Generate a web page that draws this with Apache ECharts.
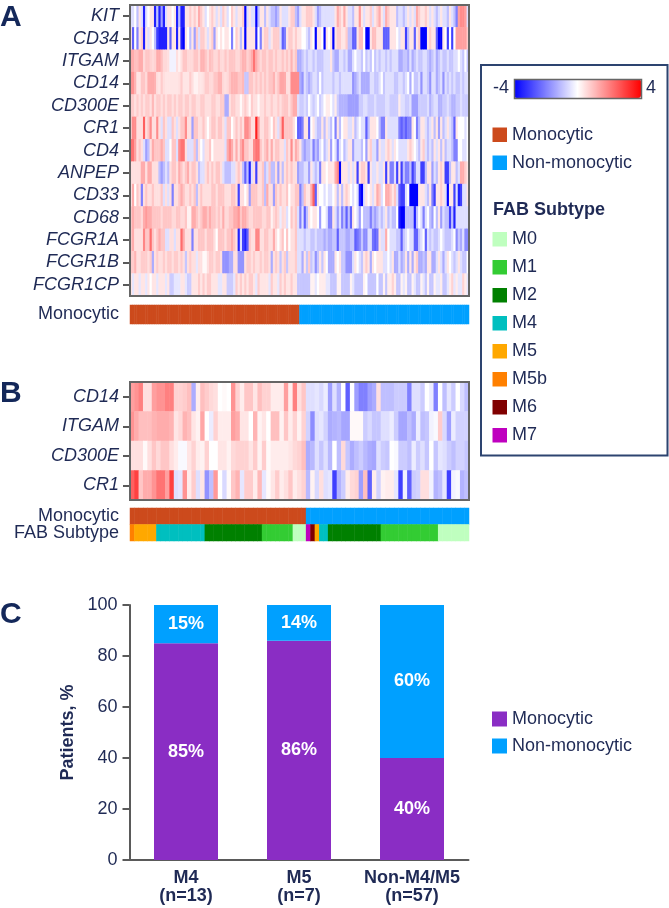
<!DOCTYPE html>
<html>
<head>
<meta charset="utf-8">
<style>html,body{margin:0;padding:0;background:#fff}#chart{width:669px;height:908px}</style>
<script src="https://cdn.jsdelivr.net/npm/echarts@6/dist/echarts.min.js"></script>
</head>
<body>
<div id="chart"></div>
<script>
// Panel A: log-scaled expression per gene, one column per patient
const KIT = [
-.5,-.5,0,-1,.4,-.5,-3.5,-.5,0,.4, .4,-3.5,-1,-3.5,-1.5,-3.5,-.5,.4,.4,0, .4,-3.5,-1,-3.5,-3.5,.4,.4,.8,.4,.8,
.4,1.3,.8,.4,-.5,0,.4,.8,.4,-.5, .4,-.5,.8,.4,-.5,0,.8,.4,-.5,.4, .4,.8,-4,-.5,.4,-.5,-.5,-4,-1,.4,
.4,-1,.4,-.5,-1,-1,-1.5,-1,.4,-.5, -.5,-.5,.4,.8,.8,-1,-1.5,-.5,.4,.4, .8,.8,.8,.4,-.5,-1.5,-1,-.5,-.5,-.5,
-.5,-.5,-.5,.4,1.3,.8,.4,1.3,.4,-.5, -.5,-1,.4,.4,1.6,.4,-.5,.4,.4,.8, -.5,.4,.8,1.3,.4,-.5,1.3,.8,.4,.4,
.4,-1,-.5,-.5,-1,-.5,.4,-.5,.4,-.5, 1.3,.8,.4,.4,.8,.4,-.5,.4,-.5,-1, -.5,.4,-.5,-.5,-1,.4,-.5,-1,-2,1.5, 1.8,1.8,1.5,-.5];
const CD34 = [
.4,-2.5,0,-2,.4,.8,-3.5,.4,-.5,.4, 0,-1,-3,-3.5,-3.5,-3.5,-3.5,.4,-2.5,.4, .4,-3.5,.4,-3.5,-4,.4,0,-1,.4,-1.5,
.8,-.5,.8,.8,.4,-.5,.4,.8,-1.5,.4, 0,.4,0,.4,.4,0,-2,0,.8,.4, -1,.4,-4,.4,.4,.4,.4,-3.5,0,-2,
.4,.8,.8,-.5,.4,.8,.8,.8,-.5,-2.5, -2,.4,.8,.8,.4,.8,.4,.4,0,0, -.5,-1,.4,0,-4,.4,.4,0,-4,.4,
0,.4,-4,.4,.8,.8,.4,.4,.8,-1, -1,-2.5,-2.5,.4,1,1,0,-4,-4,.4, 1,1,.4,.4,.4,-2.5,-2.5,-2.5,.4,.4,
.4,0,-.5,.4,.4,-3,-1,.4,.4,-2.5, .4,.8,-4,-4,-4,.4,.8,.4,.4,-2.5, -4,-4,.4,0,-3,0,-3,0,1.5,1.5, 1.5,1.5,1.5,.8];
const ITGAM_A = [
1.3,1.3,1,1,1.3,1.3,.6,.9,.9,.7, .6,.7,1.3,1.3,1,.6,.6,.5,-.2,-.2, -.2,.5,.2,.5,.9,.9,.6,.6,.6,.9,
.9,.6,1.2,1.2,.9,.6,1,.9,.6,.6, .9,.6,.6,.9,.6,.9,.9,.9,.6,.6, .9,1.2,1.2,.7,.9,1.3,2.2,1.3,.9,.6,
.9,.9,.6,.9,.9,.6,.9,.6,.6,.9, .6,.9,.6,1.2,.6,.9,-1.3,-1.3,-.9,-.5, -.9,-.5,-.5,-.9,-.5,-.9,-.9,-.9,-.5,-.5,
-.5,.4,-.9,-1.3,-1.3,-.5,-.5,-.9,-.5,-1.3, -1.3,-.5,0,-.5,-.5,-.9,0,-.9,-.5,-.9, 0,-.9,-.5,-.9,-.5,-.5,-.9,-.5,-.9,-.5,
-.5,-.5,-1.3,-1.3,-.9,-.9,-1.3,-.5,-1.3,-.9, -.5,-.9,-.9,-.5,-.5,-.9,-1.3,-.9,-.5,-1.3, -.9,-.5,-.9,-.9,-.5,-.9,-.9,-.5,-.5,0, -.5,-.9,0,-.9];
const CD14_A = [
1.7,1.7,1.2,.4,.4,.9,.9,.6,1.3,1.3, 1.3,1.2,.5,.4,.8,.5,.4,.4,.4,.4, .4,.4,.5,.8,.4,.4,.4,.8,.5,.2,
.2,.4,.4,.5,.8,.8,.6,.6,.9,.9, 1.2,1.2,.6,.5,.6,.9,1.2,1.2,1.2,.9, .9,1.1,-.9,-.9,.9,.9,.6,.9,.6,.9,
.6,.9,.6,.9,.9,1.2,.6,.9,1.4,1.4, 1.3,.5,.5,1.8,1.8,1.8,1.8,-1.3,-1.7,-.5, -.9,-1.3,-.9,-.5,-.5,-.9,0,-.9,-.5,-.5,
-.5,-.5,-.9,-.5,-.5,-.9,-.5,-.5,-.5,-.5, -.5,-1.7,-1.3,-.9,-.5,-1.3,-1.3,-1.3,-1.3,-.5, -.5,-.9,-.9,-.5,0,-.9,-.5,-.5,-.5,-.5,
-.9,-.9,-.5,-.5,-.9,-.5,0,-1.3,0,-.9, -.9,-.5,-1.7,-.5,-.5,-.9,-1.7,-.5,-.5,-1.3, -.9,-.5,-1.7,-.5,-.9,-.5,-.9,-.5,-.9,-.9, -.5,-.9,-.5,-.5];
const CD300E_A = [
.8,.8,.5,.8,.5,.8,.5,.8,.8,.5, 1.1,.5,.8,.8,.5,.8,.5,.8,.8,.5, .8,.5,.8,.8,.5,.8,.8,.5,.8,.8,
.5,.5,.8,.8,.5,.5,.5,.8,.8,.5, .5,.8,.8,-1.3,-1.3,.5,.8,.8,.5,.5, .1,.5,.8,.5,.1,.8,.5,.5,.1,.5,
.5,.8,.5,.5,.8,.5,.5,.8,.5,.8, .9,.9,.5,.9,1.3,1.3,-.5,-.8,-.8,-.5, -.8,0,-.5,-.8,-.5,0,-.8,-.5,0,.3,
.3,0,-.5,.3,-.8,-1.2,-1.2,-1.2,-1.2,-1.5, -1.5,-1.5,-1.5,-1.5,-.8,-.8,-.5,-.5,-.8,-.8, -.8,-.5,-.8,-.8,-.8,-.8,-.5,-.5,-.8,-.8,
-.8,-.8,.3,-.5,-.5,-.8,-.8,-.5,-1.5,-1.5, -1.5,-.8,-.8,-.8,-.8,-.5,-1.2,-.8,-.5,-.5, -1.2,-1.2,-.8,-.8,-.5,-.8,-1.2,-1.2,-.8,-.8, -.5,-.8,-.8,-.8];
const CR1_A = [
.9,1.8,1.8,.5,.5,.5,2.5,.5,.9,1.8, .5,.5,1.8,.5,-.5,.9,.5,-.5,-.5,.9, .5,-.5,.5,.9,.9,1.8,.5,.5,-1.5,.9,
.9,.5,.5,.9,.5,0,.5,.9,.9,.5, .9,.9,.5,-.5,.9,.9,0,.5,.9,.5, .9,.5,1.8,1.8,1.3,.5,.5,3.5,1.5,.5,
.5,.9,.9,.5,0,.9,.5,-.5,.9,2.5, .9,.9,.9,.9,.5,0,-2.5,-2.5,-2,.4, .4,-2.5,0,.4,-.5,-1,-1,.4,-1,.4,
-.5,-1,0,-2,.4,-1,0,.4,.4,-.5, -.5,.4,-1,-.5,0,-.5,-.5,-2.5,-1,.4, .4,.4,0,-1,-2,-2,.4,-.5,-.5,-.5,
-.5,-.5,-2,-2.5,-2,-2.5,-2,-2,.4,0, -2,-1,.4,.4,-.5,-1,-.5,.4,-1,.4, -1.5,.4,-1,-.5,.4,-.5,-1,-2.5,.4,0, 0,0,-.5,0];
const CD4 = [
2.2,2.2,1.5,.5,.9,.5,-.5,-1.5,-1,.5, 1.3,.9,.9,.9,1.3,.9,-.5,-.5,0,.9, .9,-.5,1.8,2.2,2.2,.5,-.5,-.5,-.5,.9,
-1,.5,0,-.5,.5,.5,.9,0,.5,.5, .5,.5,.5,-.5,1.3,1.8,1.3,.5,1.3,.5, 1.3,1.8,.9,.9,.5,.5,1.8,2.2,2.2,.9,
.5,.9,1.3,.5,1.3,.5,.9,.9,.5,.5, -.5,.9,.5,1.8,.5,1.3,.9,.4,-1,-1.5, -1,-1,-.5,-2,-1,-1.5,-.5,0,-1,-.5,
.4,-1.5,0,-.5,-2,-.5,0,-1,-.5,.4, .4,-1.5,-.5,-.5,-.5,-1,0,-1.5,.4,.8, -.5,-.5,-1.5,.4,-.5,-.5,.4,.8,.4,-.5,
.4,0,-.5,-.5,-.5,-.5,.4,.8,.4,0, -.5,-1,.4,.8,-.5,-1,-.5,-1,.4,-.5, .4,-1,.4,-1,-.5,-.5,-1,-2,-2,0, 0,-.5,-.5,0];
const ANPEP = [
.5,.5,.5,.5,.5,1.3,1.3,.5,1.3,1.3, .5,.5,.5,-1,-1.5,-1,-.5,-1,.5,.9, .9,.5,1.3,.9,.5,.9,1.3,.5,.9,.9,
.5,-1,-.5,-.5,.5,.9,.5,.9,.5,.9, .9,.5,-.5,-1,-1,-1,-.5,-.5,.5,.9, .5,-1,-2.5,-1,-3.5,-.5,.5,-3,.5,.5,
.9,-1,-.5,.9,-1,-1,.5,-1.5,.5,-1, .5,.9,.5,.9,.5,.5,-1.5,-1,-1,-.5, -.5,-1.5,.4,-.5,-1,-.5,-2,.4,.4,0,
.4,.4,.4,1.3,1.8,-4,.4,.4,.4,-.5, .4,-.5,.4,-3,.4,.8,.8,.4,-3,.4, -.5,-.5,.4,-.5,-.5,.4,-3,.4,-2,-2,
-.5,-3,.4,-3,-1,-2,-2,-1,-3,-2, -.5,-.5,-3,-3,-1,.4,.4,-1.5,-.5,-1, .4,.8,.4,-3,-3,-1,.4,.4,-1,-.5, 1.3,1.3,.8,.4];
const CD33 = [
.5,1.3,0,.9,.5,-2,.5,.9,.5,.5, .9,.5,.5,.5,.9,-.5,.5,-.5,.5,-2, .5,.5,.9,1.3,.9,.5,.5,.9,.5,.9,
-1,.5,.9,.5,.5,.5,.5,.9,.9,.5, .9,.9,.9,.5,.5,.5,.9,.9,.5,-3, .5,.5,0,.5,-1.5,.9,.9,.9,.5,.5,
.9,-1,1.3,.5,.5,-1.5,.9,.5,.9,.5, .5,.9,0,.5,.5,.9,.9,-2,-1,.9, .4,.4,1.3,2.5,-2.5,.4,0,0,-.5,0,
-.5,-.5,0,.4,-1,.4,-1,.4,.8,.4, 0,-.5,0,-.5,-3.5,-4,-.5,.4,0,.4, -.5,.4,1.3,.9,-.5,0,1.3,1.3,.9,.4,
.9,-.5,-2.5,-3,-3,-.5,0,-4,-4,-4, -4,.4,.4,.4,-.5,-1,.4,-2,-3,.4, .4,.8,.4,-.5,-4,.4,.4,-3,-.5,-3.5, -3,-.5,-.5,.4];
const CD68 = [
.9,1.3,.9,.9,.9,.6,1.3,1.6,1.3,1.3, .9,.9,.9,.9,.6,.9,.9,.9,.9,.6, .6,.9,.9,.6,.6,.9,.2,.2,1.3,1.3,
.9,.6,.9,1.3,1.3,.9,1.3,.9,.9,.6, .9,.6,1.3,.6,.6,.9,.9,1.3,1.3,1.6, .9,1.3,1.3,.9,.6,.6,.9,.9,.9,.9,
.6,.6,.9,.9,.2,.6,.9,.6,-.3,.6, .5,-.5,0,.9,.5,.9,-.5,-2,-.5,-2.5, -1,.4,0,.4,.4,0,-1.5,0,0,-.5,
-2,-2,.4,-.5,-1.5,-.5,-2,-1,-2.5,-1, -2.5,.4,0,-.5,-1.5,0,-1,-1,-1,-2, -1,-1.5,-1,-.5,-1,-.5,.4,-1,-.5,-1,
-1,0,-3.5,-4,-4,-1,-1,-1,-1,-3.5, -1,0,-.5,-2,-.5,0,-1,-1.5,0,-1, .4,-1.5,-.5,-1,-1,-3,-1,-3.5,-.5,-.5, -.5,-.5,-.5,-.5];
const FCGR1A = [
.9,1.3,.5,.5,.5,.5,1.9,.9,.9,2.3, .9,.5,.9,1.3,.9,.9,-.5,-.5,.5,.5, -.5,.5,.5,2.3,1.3,.5,.5,.5,-2,.5,
.5,.9,.9,.9,.5,.9,.9,.9,.5,0, .9,.9,.9,.5,.9,.9,1.3,.9,.5,-3.5, -.5,-3,-3.5,-2.5,.9,.5,.5,1.9,1.9,.5,
.5,.9,.9,.5,.5,1.3,.5,0,.5,.9, 0,.9,0,.5,.5,.9,-.5,-.5,-.5,-.9, -.5,-.5,-.9,-.9,-.5,-.9,-.9,-.9,-1.3,-.9,
-1.3,-1.3,-.9,-.9,-2.5,-.9,-.9,-.9,-1.3,-1.3, -.9,-.9,-2.5,-2.2,-1.8,-.9,-1.8,-1.8,-.5,-.5, -2.2,-2.5,-2.2,.4,-.5,-.5,1.3,0,-.5,-.5,
-.5,-.9,-.9,-2.5,-.9,-.5,0,-.5,-.5,-2.5, -2.5,-.9,-.5,0,-2.5,-.5,-.9,-.5,-.9,-.9, -.5,0,-.5,-.9,-.9,-.9,-.5,0,-1.8,-.9, -1.3,-.5,-1.8,-1.8];
const FCGR1B = [
.8,.8,1.2,.5,.5,.8,.8,.8,.5,.8, -1.3,.5,.8,.5,.5,.8,.5,.8,.8,.5, .8,.8,.5,.8,.5,-.9,.5,.8,.5,.5,
-.4,.5,.5,.1,.1,.5,.8,.8,.5,.8, .8,.5,-1.7,-1.7,-1.7,-1.3,-1.3,.5,.5,-1.7, -1.7,-1.7,.5,.8,.8,.5,.8,.5,.5,.8,
.5,.8,.8,.5,-1.3,.5,.8,.5,-.9,.5, .8,-.9,.5,.5,.5,.8,-.5,-.5,-1.3,.4, -.9,.8,-.9,-.5,-1.7,-.9,.4,-.9,.4,0,
-1.3,-1.3,-1.3,.4,0,.4,-.9,-.9,-1.7,-1.7, -1.7,-.5,.4,0,-.5,-.9,.4,.8,.4,-1.3, .4,0,.4,.4,.4,-.5,-.5,0,-.5,.4,
-1.3,-1.3,-.5,-1.3,-.9,.4,-1.3,.4,-1.3,.4, .8,-1.3,-1.3,-.9,-1.3,.4,.4,-1.3,-1.3,-.5, .4,-.5,-1.3,-.5,.4,0,-.5,-.9,-.5,.4, -.5,-.9,-.9,0];
const FCGR1CP = [
.4,-.4,.4,.4,-.4,.4,.4,-.4,.4,0, .4,.4,-.4,.4,.4,.4,-.4,.4,-.8,-.8, -.4,-.4,-.4,.4,.4,-.4,-.8,-.8,.4,.4,
.4,.8,.4,.8,.4,.8,.8,.4,.4,.4, -.4,-.4,.4,.4,-.8,-.8,-.8,-.4,.8,.4, .8,.4,.8,.4,.8,.8,.4,-.4,.8,.4,
.4,.4,.4,-.4,.8,.4,.4,-.4,.8,.4, .8,.4,.4,.8,.4,.4,-.9,-.9,-.9,-.9, -.9,-.9,.2,.2,-.4,0,.3,.3,.3,-.4,
-.4,-.9,-.9,-.9,.2,.2,-.9,-.9,-.9,-.9, .2,-.4,-.9,-.9,-.9,-.9,.2,0,-.9,-.9, -.9,-.9,0,-.9,-.9,.2,-.9,.3,.3,.7,
.3,-.9,-.9,.2,-.4,.2,-.9,-.9,.2,-.4, -.9,-.9,.2,-.4,-.9,.2,-.9,-.9,.2,-.4, -.4,.3,-.9,-.9,-.4,.3,.7,-.4,.3,-.4, -.4,.7,.3,-.4];

// Panel B: the four-gene signature across the 77 annotated patients
const CD14_B = [
1.5,1.7,2,.5,.5,1.5,1.7,1.7,2,2, .7,.7,.8,1,-1.3,.3,1,.8,.6,.5, 0,.1,0,1.7,.7,.3,.9,.9,.4,1,
.7,.7,.3,.3,.3,1.5,.3,2,.5,.9, -.5,-.5,-.4,-.6,-.3,-1.5,-.5,-1.2,0,-2.5, 0,-1.5,-2,-2,-1.5,-1.3,.5,-1,-1,-1,
-.8,-.8,-.8,-2,-.5,-.5,-.8,0,-.3,-2, 0,-1,-.4,-.8,0,-.6,-1];
const ITGAM_B = [
1.7,1.3,1,1,1,1.2,1.3,1.3,1.3,1.2, .4,.6,1.2,1,.4,.2,1.4,0,-.3,.7, .3,.3,.3,1.5,1.3,.4,.4,0,1.2,.2,
.4,0,1,1,.2,.9,.3,.7,.2,.7, -.7,-1.8,-.5,-.4,-.7,-1.3,-1.2,-1.1,-1.4,-1.4, .1,.1,.1,-.8,-.6,-.9,-.9,-.5,-.5,-.3,
-.8,-1.4,-1.4,-1,-1.3,-.3,-1,-.9,-.2,-.1, .8,-.6,-1.5,-.3,-.7,-.7,-.7];
const CD300E_B = [
.5,.5,.5,.1,.5,.9,.6,.9,.9,.5, .3,-.1,-.1,.4,.7,.3,.2,.7,0,0, .4,.4,.2,.6,.7,.7,.7,.4,.8,.2,
.8,.1,.3,.3,.3,.3,.4,.6,.7,1, -1.3,-1.1,-.5,-.9,-.5,-1.1,0,-1,.6,-.9, -1.3,-1,-.8,-1.1,-1.3,-1.4,-.5,-.8,-.9,0,
-.1,-.8,-.8,-1,-.3,-.8,-.5,-.9,0,-.9, -.4,-.5,-.8,-1,-.7,-.7,-.9];
const CR1_B = [
2.5,3,.9,1.3,1.3,1.7,2.2,2.2,1.5,3, -.5,-.4,1.7,.3,.8,-.5,.4,-1.7,-1,1.6, 0,-.6,.1,.9,1.2,-.4,.8,.8,.3,1.1,
-.4,.1,.4,.8,.3,.5,.9,.3,.5,.7, -1.1,.2,-.6,.5,-.5,-.4,-3,-1.2,-.8,.3, .6,.7,-1.5,1,-2.5,.3,-.7,.2,.3,.3,
-.4,-3,-.2,-2.5,-.8,-.7,.5,.5,-.2,-1.2, -1,-.4,-3,-.2,-.1,-1.2,-1];

const genesA = ['KIT','CD34','ITGAM','CD14','CD300E','CR1','CD4','ANPEP','CD33','CD68','FCGR1A','FCGR1B','FCGR1CP'];
const rowsA = [KIT,CD34,ITGAM_A,CD14_A,CD300E_A,CR1_A,CD4,ANPEP,CD33,CD68,FCGR1A,FCGR1B,FCGR1CP];
const genesB = ['CD14','ITGAM','CD300E','CR1'];
const rowsB = [CD14_B,ITGAM_B,CD300E_B,CR1_B];

// Annotation tracks as [class, number of patients] runs
const monocyticRunsA = [['Monocytic',77],['Non-monocytic',77]];
const monocyticRunsB = [['Monocytic',40],['Non-monocytic',37]];
const fabRunsB = [['M5b',1],['M5',5],['M4',11],['M2',13],['M1',7],['M0',3],
                  ['M7',1],['M6',1],['M5',1],['M4',2],['M2',12],['M1',13],['M0',7]];

const trackColors = {
  'Monocytic':'#CC4A1C','Non-monocytic':'#00A0FF','M0':'#BFFFBF','M1':'#33CC33','M2':'#008000',
  'M4':'#00BFBF','M5':'#FFA800','M5b':'#FF8000','M6':'#800000','M7':'#BF00BF'
};
const fabSubtypes = ['M0','M1','M2','M4','M5','M5b','M6','M7'];

// Panel C
const barCategories = ['M4\n(n=13)','M5\n(n=7)','Non-M4/M5\n(n=57)'];
const monocyticPct = [85,86,40];
const nonMonocyticPct = [15,14,60];

const INK = '#1f2a55', AXIS = '#5a5a5a', FONT = '"Liberation Sans",Arial,sans-serif';
const trackKeys = Object.keys(trackColors);

const expand = runs => runs.flatMap(([k,n]) => Array.from({length:n}, () => k));
const heatCells = rows => rows.flatMap((r,y) => r.map((v,x) => [x,y,v]));
const trackCells = (tracks) => tracks.flatMap((t,y) => expand(t).map((k,x) => [x,y,trackKeys.indexOf(k)]));
const indices = n => Array.from({length:n}, (_,i) => String(i));

const geneAxis = (gridIndex, data) => ({
  type:'category', gridIndex, data, inverse:true,
  axisLine:{show:false},
  axisTick:{show:true, length:7, alignWithLabel:true, lineStyle:{color:AXIS,width:2}},
  axisLabel:{interval:0, margin:11, fontFamily:FONT, fontSize:18, fontStyle:'italic', color:INK}
});
const trackAxis = (gridIndex, data) => ({
  type:'category', gridIndex, data, inverse:true,
  axisLine:{show:false}, axisTick:{show:false},
  axisLabel:{interval:0, margin:11, fontFamily:FONT, fontSize:18, color:INK}
});
const colAxis = (gridIndex, n) => ({type:'category', gridIndex, data:indices(n), show:false});
const heatSeries = (i, data) => ({type:'heatmap', xAxisIndex:i, yAxisIndex:i, data, progressive:0, animation:false});

// Side panel: frame, class swatches and FAB key
const swatch = (y, key) => [
  {type:'rect', shape:{x:492.5,y,width:14.5,height:14.5}, style:{fill:trackColors[key]}},
  {type:'text', style:{x:512,y:y+7.5,text:key,font:'18px '+FONT,fill:INK,align:'left',verticalAlign:'middle'}}
];
const letter = (t,y) => ({type:'text', style:{x:0,y,text:t,font:'bold 30px '+FONT,fill:'#14285a',align:'left',verticalAlign:'middle'}});

const graphic = [
  {type:'rect', z:-1, shape:{x:481,y:65,width:186.5,height:390.5}, style:{fill:'#fff',stroke:'#2d4470',lineWidth:2}},
  {type:'rect', z:200, shape:{x:514.5,y:79.5,width:127,height:19}, style:{fill:'none',stroke:'#666',lineWidth:1.5}},
  ...swatch(127.5,'Monocytic'), ...swatch(155.5,'Non-monocytic'),
  {type:'text', style:{x:493,y:210,text:'FAB Subtype',font:'bold 18px '+FONT,fill:INK,align:'left',verticalAlign:'middle'}},
  ...fabSubtypes.flatMap((k,i) => swatch(232+28*i,k)),
  {type:'rect', z:200, shape:{x:130,y:5,width:339,height:291}, style:{fill:'none',stroke:'#666',lineWidth:2}},
  {type:'rect', z:200, shape:{x:130,y:382,width:339,height:118}, style:{fill:'none',stroke:'#666',lineWidth:2}},
  letter('A',18), letter('B',393.5), letter('C',615)
];

const chart = echarts.init(document.getElementById('chart'), null, {renderer:'canvas'});
chart.setOption({
  animation:false,
  backgroundColor:'#fff',
  textStyle:{fontFamily:FONT},
  grid:[
    {left:130,width:339,top:5,height:291},
    {left:130,width:339,top:305,height:19},
    {left:130,width:339,top:382,height:118},
    {left:130,width:339,top:508,height:33},
    {left:129.5,width:339,top:605,height:255}
  ],
  xAxis:[
    colAxis(0,KIT.length), colAxis(1,KIT.length), colAxis(2,CD14_B.length), colAxis(3,CD14_B.length),
    {type:'category', gridIndex:4, data:barCategories,
     axisLine:{lineStyle:{color:AXIS,width:2}}, axisTick:{show:false},
     axisLabel:{interval:0, margin:9, fontFamily:FONT, fontSize:18, fontWeight:'bold', lineHeight:18, color:INK}}
  ],
  yAxis:[
    geneAxis(0,genesA), trackAxis(1,['Monocytic']), geneAxis(2,genesB), trackAxis(3,['Monocytic','FAB Subtype']),
    {type:'value', gridIndex:4, min:0, max:100, interval:20,
     name:'Patients, %', nameLocation:'middle', nameGap:51,
     nameTextStyle:{fontFamily:FONT, fontSize:18, fontWeight:'bold', color:INK},
     splitLine:{show:false},
     axisLine:{show:true, lineStyle:{color:AXIS,width:2}},
     axisTick:{show:true, length:7, lineStyle:{color:AXIS,width:2}},
     axisLabel:{margin:12, fontFamily:FONT, fontSize:18, color:INK}}
  ],
  visualMap:[
    {type:'continuous', seriesIndex:[0,2], min:-4, max:4, orient:'horizontal', left:478, top:64,
     itemWidth:19, itemHeight:127, text:['4','-4'], textGap:5, calculable:false, hoverLink:false,
     inRange:{color:['#0000ff','#ffffff','#ff0000']},
     textStyle:{fontFamily:FONT, fontSize:18, color:INK}},
    {type:'piecewise', show:false, seriesIndex:[1,3],
     pieces:trackKeys.map((k,i) => ({value:i, color:trackColors[k]}))}
  ],
  legend:{orient:'vertical', left:487, top:705, itemWidth:15, itemHeight:15, itemGap:9, icon:'rect',
          data:['Monocytic','Non-monocytic'],
          textStyle:{fontFamily:FONT, fontSize:18, color:INK}},
  graphic:{elements:graphic},
  series:[
    heatSeries(0, heatCells(rowsA)),
    heatSeries(1, trackCells([monocyticRunsA])),
    heatSeries(2, heatCells(rowsB)),
    heatSeries(3, trackCells([monocyticRunsB, fabRunsB])),
    {type:'bar', name:'Monocytic', xAxisIndex:4, yAxisIndex:4, stack:'pct', barWidth:64,
     data:monocyticPct, itemStyle:{color:'#8A2DC4'},
     label:{show:true, position:'inside', formatter:'{c}%', fontFamily:FONT, fontSize:18, fontWeight:'bold', color:'#fff'}},
    {type:'bar', name:'Non-monocytic', xAxisIndex:4, yAxisIndex:4, stack:'pct', barWidth:64,
     data:nonMonocyticPct, itemStyle:{color:'#00A0FF'},
     label:{show:true, position:'inside', formatter:'{c}%', fontFamily:FONT, fontSize:18, fontWeight:'bold', color:'#fff'}}
  ]
});
</script>
</body>
</html>
